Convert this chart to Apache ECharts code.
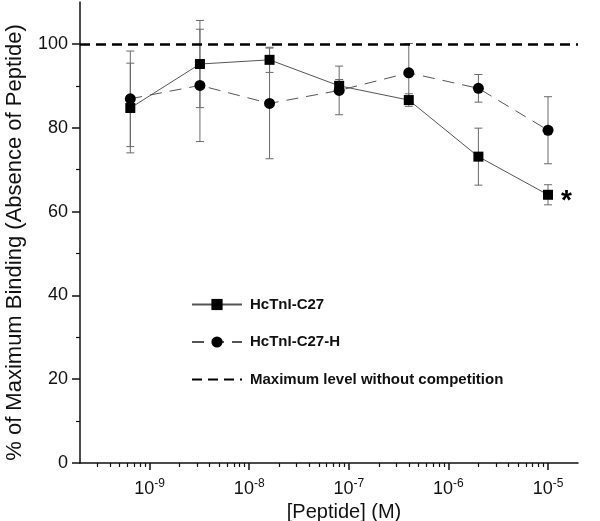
<!DOCTYPE html>
<html><head><meta charset="utf-8">
<script src="https://cdn.jsdelivr.net/npm/echarts@6/dist/echarts.min.js"></script>
<style>html,body{margin:0;padding:0;background:#fff}#c{width:600px;height:521px}</style>
</head><body><div id="c"></div>
<script>
const concentrations = [6.4e-10, 3.2e-9, 1.6e-8, 8e-8, 4e-7, 2e-6, 1e-5];
const c27Values = [84.7, 95.2, 96.2, 90.0, 86.6, 73.1, 64.0];
const c27Errors = [10.7, 10.4, 3.0, 1.5, 1.5, 6.8, 2.4];
const c27hValues = [86.9, 90.1, 85.8, 88.9, 93.1, 89.4, 79.4];
const c27hErrors = [11.4, 13.4, 13.2, 5.8, 7.0, 3.3, 8.0];
const maxLevel = 100;
const seriesNames = ['HcTnI-C27', 'HcTnI-C27-H', 'Maximum level without competition'];
const xDecades = [-9, -8, -7, -6, -5];
const yTicks = [0, 20, 40, 60, 80, 100];
const yMinorTicks = [10, 30, 50, 70, 90];
const xRange = [2e-10, 2e-5];
const xTitle = '[Peptide] (M)';
const yTitle = '% of Maximum Binding (Absence of Peptide)';

const xMin = Math.log10(xRange[0]), xMax = Math.log10(xRange[1]);
const xMinor = [];
for (let n = -10; n <= -5; n++) {
  for (let k = 2; k <= 9; k++) {
    const v = Math.log10(k * Math.pow(10, n));
    if (v > xMin && v < xMax) xMinor.push(v);
  }
}
const FONT = 'Liberation Sans, Arial, sans-serif';

function errorBarSeries(name, values, errors) {
  const data = concentrations.map((c, i) => [Math.log10(c), values[i] - errors[i], values[i] + errors[i]]);
  return {
    type: 'custom', name: name + ' err', data: data, z: 1, silent: true,
    encode: { x: 0, y: [1, 2] },
    renderItem: function (params, api) {
      const x = api.value(0);
      const lo = api.coord([x, api.value(1)]);
      const hi = api.coord([x, api.value(2)]);
      const w = 4;
      const style = { stroke: '#6a6a6a', lineWidth: 1 };
      return { type: 'group', children: [
        { type: 'line', shape: { x1: lo[0], y1: lo[1], x2: hi[0], y2: hi[1] }, style: style },
        { type: 'line', shape: { x1: lo[0] - w, y1: lo[1], x2: lo[0] + w, y2: lo[1] }, style: style },
        { type: 'line', shape: { x1: hi[0] - w, y1: hi[1], x2: hi[0] + w, y2: hi[1] }, style: style }
      ] };
    }
  };
}

const c27Data = concentrations.map((c, i) => {
  const item = { value: [Math.log10(c), c27Values[i]] };
  if (i === concentrations.length - 1) {
    item.label = { show: true, formatter: '*', position: 'right', distance: 8,
      fontSize: 28, fontWeight: 'bold', color: '#000', fontFamily: FONT, offset: [0, 6] };
  }
  return item;
});
const c27hData = concentrations.map((c, i) => [Math.log10(c), c27hValues[i]]);

const chart = echarts.init(document.getElementById('c'), null, { renderer: 'canvas' });
chart.setOption({
  animation: false,
  backgroundColor: '#fff',
  grid: { left: 80, right: 22, top: 2, bottom: 58, containLabel: false, outerBoundsMode: 'none' },
  legend: {
    data: seriesNames, orient: 'vertical', left: 186, top: 292,
    itemWidth: 50, itemHeight: 14, itemGap: 22.5,
    textStyle: { fontFamily: FONT, fontSize: 15, fontWeight: 'bold', color: '#111', padding: [0, 0, 0, 3] }
  },
  xAxis: [{
    type: 'value', min: xMin, max: xMax,
    name: xTitle, nameLocation: 'middle', nameGap: 37,
    nameTextStyle: { fontFamily: FONT, fontSize: 20, color: '#111', padding: [0, 0, 0, 30] },
    axisLine: { show: true, lineStyle: { color: '#111', width: 1.5 } },
    axisTick: { show: true, customValues: xDecades, length: 7, lineStyle: { color: '#111', width: 1.5 } },
    axisLabel: { customValues: xDecades, margin: 15, fontFamily: FONT,
      formatter: function (v) { return '{b|10}{s|' + Math.round(v) + '}'; },
      rich: { b: { fontSize: 18, color: '#111', fontFamily: FONT },
              s: { fontSize: 12, color: '#111', fontFamily: FONT, padding: [0, 0, 10, 0] } } },
    splitLine: { show: false }
  }, {
    type: 'value', min: xMin, max: xMax, position: 'bottom',
    axisLine: { show: false },
    axisTick: { show: true, customValues: xMinor, length: 4, lineStyle: { color: '#111', width: 1.2 } },
    axisLabel: { show: false }, splitLine: { show: false }
  }],
  yAxis: [{
    type: 'value', min: 0, max: 110,
    name: yTitle, nameLocation: 'middle', nameGap: 54,
    nameTextStyle: { fontFamily: FONT, fontSize: 22, color: '#111', padding: [0, 20, 0, 0] },
    axisLine: { show: true, lineStyle: { color: '#111', width: 1.5 } },
    axisTick: { show: true, customValues: yTicks, length: 8, lineStyle: { color: '#111', width: 1.5 } },
    axisLabel: { customValues: yTicks, margin: 12, fontFamily: FONT, fontSize: 18, color: '#111' },
    splitLine: { show: false }
  }, {
    type: 'value', min: 0, max: 110, position: 'left',
    axisLine: { show: false },
    axisTick: { show: true, customValues: yMinorTicks, length: 4, lineStyle: { color: '#111', width: 1.2 } },
    axisLabel: { show: false }, splitLine: { show: false }
  }],
  series: [
    errorBarSeries(seriesNames[0], c27Values, c27Errors),
    errorBarSeries(seriesNames[1], c27hValues, c27hErrors),
    {
      name: seriesNames[0], type: 'line', data: c27Data, z: 3,
      symbol: 'rect', symbolSize: 10,
      itemStyle: { color: '#000' },
      lineStyle: { color: '#555', width: 1, type: 'solid' }
    },
    {
      name: seriesNames[1], type: 'line', data: c27hData, z: 3,
      symbol: 'circle', symbolSize: 11,
      itemStyle: { color: '#000' },
      lineStyle: { color: '#555', width: 1, type: [12, 8] }
    },
    {
      name: seriesNames[2], type: 'line', data: [], z: 2,
      symbol: 'none', showSymbol: false,
      itemStyle: { color: 'rgba(0,0,0,0)' },
      lineStyle: { color: '#000', width: 2.5, type: [10, 6] },
      markLine: { silent: true, symbol: 'none', label: { show: false },
        lineStyle: { color: '#000', width: 2.5, type: [10, 6] },
        data: [{ yAxis: maxLevel }] }
    }
  ]
});
</script></body></html>
